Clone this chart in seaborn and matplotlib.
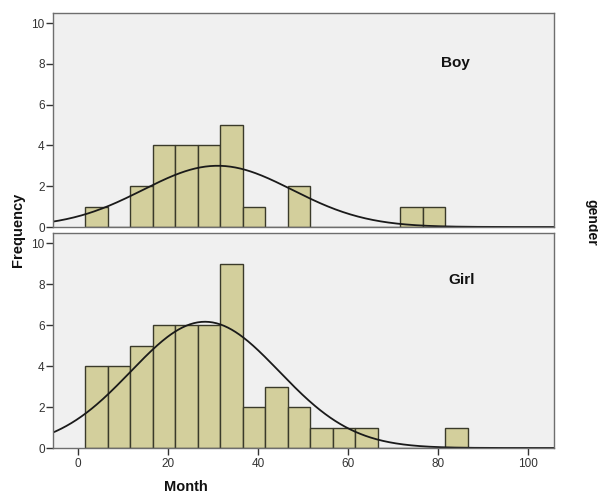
import numpy as np
import matplotlib
matplotlib.use("Agg")
import matplotlib.pyplot as plt
import seaborn as sns

sns.set_theme(style="white")
plt.rcParams['font.family'] = ['Liberation Sans', 'DejaVu Sans']

# bin edges (width 5 months)
bin_edges = [1.6 + 5 * k for k in range(18)]
bin_centers = [e + 2.5 for e in bin_edges[:-1]]

boy_counts = [1, 0, 2, 4, 4, 4, 5, 1, 0, 2, 0, 0, 0, 0, 1, 1, 0]
girl_counts = [4, 4, 5, 6, 6, 6, 9, 2, 3, 2, 1, 1, 1, 0, 0, 0, 1]

boy_mean, boy_sd = 31.0, 16.6
girl_mean, girl_sd = 28.2, 16.5

x_ticks = [0, 20, 40, 60, 80, 100]
y_ticks = [0, 2, 4, 6, 8, 10]

panels = [("Boy", boy_counts, boy_mean, boy_sd),
          ("Girl", girl_counts, girl_mean, girl_sd)]

fig = plt.figure(figsize=(5.98, 4.94), dpi=100)
left, width = 53 / 598, (554 - 53) / 598
axes = [fig.add_axes([left, 1 - 227 / 494, width, (227 - 13) / 494]),
        fig.add_axes([left, 1 - 448 / 494, width, (448 - 233) / 494])]

bar_color = "#d3cf9c"
edge_color = "#3a3a2a"
label_pos = [(455 / 598, 1 - 63 / 494), (462 / 598, 1 - 280 / 494)]

for i, (ax, (name, counts, mu, sd)) in enumerate(zip(axes, panels)):
    ax.set_facecolor("#f0f0f0")
    sns.histplot(x=bin_centers, weights=counts, bins=bin_edges, ax=ax,
                 color=bar_color, edgecolor=edge_color, linewidth=1.0,
                 alpha=1.0)
    xs = np.linspace(-6, 106, 400)
    n = sum(counts)
    ys = n * 5 / (sd * np.sqrt(2 * np.pi)) * np.exp(-0.5 * ((xs - mu) / sd) ** 2)
    sns.lineplot(x=xs, y=ys, ax=ax, color="#1a1a1a", linewidth=1.3)
    ax.set_xlim(-5.6, 105.8)
    ax.set_ylim(0, 10.5)
    ax.set_yticks(y_ticks)
    ax.set_yticklabels([str(t) for t in y_ticks])
    ax.set_xticks(x_ticks)
    ax.set_ylabel("")
    ax.set_xlabel("")
    for s in ax.spines.values():
        s.set_color("#6e6e6e")
        s.set_linewidth(1.0)
    ax.tick_params(axis="y", direction="out", length=5, width=1, color="#333333",
                   labelsize=8.5, labelcolor="#333333", pad=1, left=True)
    if i == 0:
        ax.tick_params(axis="x", bottom=False, labelbottom=False)
    else:
        ax.tick_params(axis="x", direction="out", length=5, width=1, color="#333333",
                       labelsize=8.5, labelcolor="#333333", pad=2, bottom=True)
    fig.text(label_pos[i][0], label_pos[i][1], name, ha="center", va="center",
             fontsize=11, fontweight="bold", color="#111111")

fig.text(18 / 598, 1 - 230 / 494, "Frequency", rotation=90, ha="center", va="center",
         fontsize=10.5, fontweight="bold", color="#111111")
fig.text(186 / 598, 1 - 487 / 494, "Month", ha="center", va="center",
         fontsize=10.5, fontweight="bold", color="#111111")
fig.text(591 / 598, 1 - 222 / 494, "gender", rotation=270, ha="center", va="center",
         fontsize=10, fontweight="bold", color="#111111")

fig.savefig("out.png", dpi=100, facecolor="white")
